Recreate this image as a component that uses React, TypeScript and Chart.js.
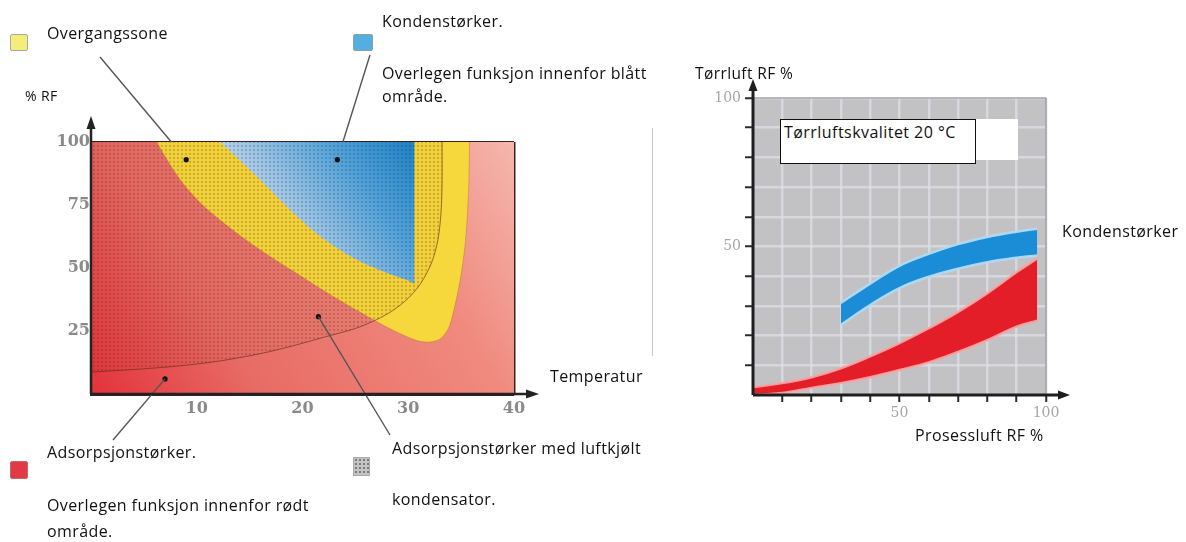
import React, { useEffect, useRef } from "react";
import { Chart, registerables } from "chart.js";
Chart.register(...registerables);

// ---------- Left chart (Temperatur / % RF) ----------
const leftXTicks = [10, 20, 30, 40];
const leftYTicks = [25, 50, 75, 100];
// Overgangssone (yellow) lower boundary
const yellowX = [6.2, 7.4, 8.8, 10.3, 12.2, 14.2, 16.6, 19.2, 22, 25, 28, 30, 31, 32, 33, 33.8, 34.3, 34.9, 35.4, 35.7, 35.8];
const yellowY = [100, 91.5, 83, 76, 69, 62.5, 55.5, 48.5, 41, 33.5, 26.5, 22.5, 21, 20.6, 21.8, 26, 33, 45, 60, 80, 100];
// Kondenstørker (blue) lower boundary
const blueX = [12.2, 14, 16, 18, 20, 22, 24, 26, 28, 30, 30.6, 30.6];
const blueY = [100, 93, 85, 76.5, 68.5, 61.5, 56, 51.5, 48, 45, 44, 100];
// Adsorpsjonstørker med luftkjølt kondensator (dotted) boundary
const patternX = [0, 4, 8, 12, 16, 19, 22, 25, 27, 28.5, 30, 31.2, 32.2, 32.8, 33.1, 33.2, 33.2];
const patternY = [8.7, 9.7, 11, 13, 16, 19, 22.5, 26, 29.5, 33, 38, 44, 52, 61, 72, 85, 100];
// marker dots
const dotX = [9, 23.3, 21.5, 7];
const dotY = [93, 93, 30.7, 6];

// ---------- Right chart (Prosessluft RF % / Tørrluft RF %) ----------
const rightTickLabels = [50, 100];
const rBlueX = [30, 40, 50, 60, 70, 80, 90, 97];
const rBlueUpper = [31, 37.5, 43.5, 47.5, 50.8, 53.2, 55, 56];
const rBlueLower = [23.6, 30.3, 36, 39.8, 42.5, 44.7, 46.2, 47];
const rRedX = [0, 10, 20, 30, 40, 50, 60, 70, 80, 90, 97];
const rRedUpper = [2.7, 4, 6, 9, 13, 17.5, 22.5, 28, 34.3, 41.4, 46];
const rRedLower = [0, 0.7, 2.4, 4, 6, 8.4, 11, 14.5, 18.5, 23, 25];

const pts = (xs: number[], ys: number[]) => xs.map((x, i) => ({ x, y: ys[i] }));

const FONT = "'Open Sans', 'Noto Sans', sans-serif";

type TextItem = { t: string; x: number; cy: number; size?: number; ls?: number };
const texts: TextItem[] = [
  { t: "Overgangssone", x: 47, cy: 33 },
  { t: "% RF", x: 25, cy: 96, size: 14 },
  { t: "Kondenstørker.", x: 382, cy: 21 },
  { t: "Overlegen funksjon innenfor blått", x: 382, cy: 73 },
  { t: "område.", x: 382, cy: 96 },
  { t: "Temperatur", x: 550, cy: 376 },
  { t: "Adsorpsjonstørker.", x: 47, cy: 452 },
  { t: "Overlegen funksjon innenfor rødt", x: 47, cy: 505 },
  { t: "område.", x: 47, cy: 531 },
  { t: "Adsorpsjonstørker med luftkjølt", x: 392, cy: 448 },
  { t: "kondensator.", x: 392, cy: 499 },
  { t: "Tørrluft RF %", x: 695, cy: 73, size: 15.5 },
  { t: "Kondenstørker", x: 1062, cy: 231 },
  { t: "Prosessluft RF %", x: 915, cy: 435 },
];

// leader lines: start (page px) -> dot index
const leaders = [
  { sx: 100, sy: 57, dot: 0, stopAtTop: true },
  { sx: 370, sy: 55, dot: 1, stopAtTop: true },
  { sx: 113, sy: 440, dot: 3, stopAtTop: false },
  { sx: 390, sy: 435, dot: 2, stopAtTop: false },
];

function LeftChart() {
  const ref = useRef<HTMLCanvasElement>(null);
  useEffect(() => {
    const canvas = ref.current!;
    const c2d = canvas.getContext("2d")!;
    const pc = document.createElement("canvas");
    pc.width = 4;
    pc.height = 4;
    const g = pc.getContext("2d")!;
    g.fillStyle = "rgba(110,50,10,0.04)";
    g.fillRect(0, 0, 4, 4);
    g.fillStyle = "rgba(80,30,10,0.32)";
    g.beginPath();
    g.arc(2, 2, 0.9, 0, Math.PI * 2);
    g.fill();
    const pattern = c2d.createPattern(pc, "repeat")!;

    const decor = {
      id: "leftDecor",
      afterDraw(chart: any) {
        const { ctx, chartArea, scales } = chart;
        const { left, top, right, bottom } = chartArea;
        ctx.save();
        ctx.strokeStyle = "#555";
        ctx.lineWidth = 1.4;
        leaders.forEach((l) => {
          const ex = scales.x.getPixelForValue(dotX[l.dot]);
          const ey = scales.y.getPixelForValue(dotY[l.dot]);
          let tx = ex,
            ty = ey;
          if (l.stopAtTop) {
            const t = (top - l.sy) / (ey - l.sy);
            tx = l.sx + (ex - l.sx) * t;
            ty = top;
          }
          ctx.beginPath();
          ctx.moveTo(l.sx, l.sy);
          ctx.lineTo(tx, ty);
          ctx.stroke();
        });
        ctx.strokeStyle = "#222";
        ctx.fillStyle = "#222";
        ctx.lineWidth = 2.5;
        ctx.beginPath();
        ctx.moveTo(left, bottom);
        ctx.lineTo(left, top - 16);
        ctx.moveTo(left, bottom);
        ctx.lineTo(right + 16, bottom);
        ctx.stroke();
        ctx.beginPath();
        ctx.moveTo(left, top - 26);
        ctx.lineTo(left - 4.5, top - 13);
        ctx.lineTo(left + 4.5, top - 13);
        ctx.closePath();
        ctx.fill();
        ctx.beginPath();
        ctx.moveTo(right + 25, bottom);
        ctx.lineTo(right + 12, bottom - 4.5);
        ctx.lineTo(right + 12, bottom + 4.5);
        ctx.closePath();
        ctx.fill();
        ctx.restore();
      },
    };

    const redGrad = (c: any) => {
      const ch = c.chart;
      const ca = ch.chartArea;
      if (!ca) return "#e8605a";
      const gr = ch.ctx.createLinearGradient(ca.left, ca.bottom, ca.right, ca.top);
      gr.addColorStop(0, "#e3323a");
      gr.addColorStop(0.3, "#e86c66");
      gr.addColorStop(0.72, "#f08a7f");
      gr.addColorStop(1, "#f5b7ad");
      return gr;
    };
    const blueGrad = (c: any) => {
      const ch = c.chart;
      const { chartArea, scales } = ch;
      if (!chartArea) return "#5aaee4";
      const gr = ch.ctx.createLinearGradient(
        scales.x.getPixelForValue(31),
        scales.y.getPixelForValue(100),
        scales.x.getPixelForValue(19),
        scales.y.getPixelForValue(62)
      );
      gr.addColorStop(0, "#1585d0");
      gr.addColorStop(0.45, "#4ea8e6");
      gr.addColorStop(1, "#b6d8f6");
      return gr;
    };

    const chart = new Chart(canvas, {
      type: "line",
      data: {
        datasets: [
          {
            data: pts(dotX, dotY),
            showLine: false,
            pointRadius: 2.6,
            pointBackgroundColor: "#111",
            pointBorderWidth: 0,
            fill: false,
          },
          {
            data: pts(patternX, patternY),
            fill: "end",
            backgroundColor: pattern,
            borderColor: "rgba(90,40,30,0.6)",
            borderWidth: 1,
            pointRadius: 0,
            tension: 0.3,
          },
          {
            data: pts(blueX, blueY),
            fill: "end",
            backgroundColor: blueGrad,
            borderColor: "transparent",
            pointRadius: 0,
            tension: 0.3,
          },
          {
            data: pts(yellowX, yellowY),
            fill: "end",
            backgroundColor: "#f6d83c",
            borderColor: "rgba(190,110,50,0.45)",
            borderWidth: 1,
            pointRadius: 0,
            tension: 0.3,
          },
          {
            data: [
              { x: 0, y: 0 },
              { x: 40, y: 0 },
            ],
            fill: "end",
            backgroundColor: redGrad,
            borderColor: "transparent",
            pointRadius: 0,
          },
        ],
      },
      options: {
        animation: false,
        responsive: false,
        events: [],
        layout: { padding: { left: 0, top: 142, right: 146, bottom: 0 } },
        plugins: {
          legend: { display: false },
          tooltip: { enabled: false },
          filler: { drawTime: "beforeDatasetsDraw" },
        },
        scales: {
          x: {
            type: "linear",
            min: 0,
            max: 40,
            z: 1,
            afterFit: (s: any) => {
              s.height = 148;
            },
            afterBuildTicks: (s: any) => {
              s.ticks = leftXTicks.map((v) => ({ value: v }));
            },
            border: { display: true, color: "#3a2222", width: 3 },
            grid: {
              drawTicks: false,
              color: (c: any) => (c.tick && c.tick.value === 40 ? "#3a2222" : "rgba(70,30,30,0.55)"),
              lineWidth: (c: any) => (c.tick && c.tick.value === 40 ? 2.5 : 1.2),
            },
            ticks: {
              padding: 5,
              color: "#8a8a8a",
              maxRotation: 0,
              font: { family: "'DejaVu Serif', serif", weight: "bold", size: 16 },
            },
          },
          y: {
            type: "linear",
            min: 0,
            max: 100,
            z: 1,
            afterFit: (s: any) => {
              s.width = 91;
            },
            afterBuildTicks: (s: any) => {
              s.ticks = leftYTicks.map((v) => ({ value: v }));
            },
            border: { display: true, color: "#3a2222", width: 3 },
            grid: {
              drawTicks: false,
              color: (c: any) => (c.tick && c.tick.value === 100 ? "#3a2222" : "rgba(70,30,30,0.55)"),
              lineWidth: (c: any) => (c.tick && c.tick.value === 100 ? 2.5 : 1.2),
            },
            ticks: {
              padding: 1,
              color: "#8a8a8a",
              font: { family: "'DejaVu Serif', serif", weight: "bold", size: 16 },
            },
          },
        },
      },
      plugins: [decor],
    } as any);
    return () => chart.destroy();
  }, []);
  return (
    <canvas
      ref={ref}
      width={660}
      height={542}
      style={{ position: "absolute", left: 0, top: 0, width: 660, height: 542 }}
    />
  );
}

function RightChart() {
  const ref = useRef<HTMLCanvasElement>(null);
  useEffect(() => {
    const canvas = ref.current!;
    const decor = {
      id: "rightDecor",
      beforeDraw(chart: any) {
        const { ctx, chartArea } = chart;
        const { left, top, right, bottom } = chartArea;
        ctx.save();
        ctx.fillStyle = "#c2c2c5";
        ctx.fillRect(left, top, right - left, bottom - top);
        ctx.restore();
      },
      afterDraw(chart: any) {
        const { ctx, chartArea } = chart;
        const { left, top, right, bottom } = chartArea;
        ctx.save();
        ctx.strokeStyle = "#8c8c8e";
        ctx.lineWidth = 1.2;
        ctx.beginPath();
        ctx.moveTo(left, top);
        ctx.lineTo(right, top);
        ctx.lineTo(right, bottom);
        ctx.stroke();
        ctx.strokeStyle = "#1e1e1e";
        ctx.fillStyle = "#1e1e1e";
        ctx.lineWidth = 3;
        ctx.beginPath();
        ctx.moveTo(left, bottom);
        ctx.lineTo(left, top - 10);
        ctx.moveTo(left, bottom);
        ctx.lineTo(right + 14, bottom);
        ctx.stroke();
        ctx.beginPath();
        ctx.moveTo(left, top - 19);
        ctx.lineTo(left - 4.5, top - 7);
        ctx.lineTo(left + 4.5, top - 7);
        ctx.closePath();
        ctx.fill();
        ctx.beginPath();
        ctx.moveTo(right + 24, bottom);
        ctx.lineTo(right + 12, bottom - 4.5);
        ctx.lineTo(right + 12, bottom + 4.5);
        ctx.closePath();
        ctx.fill();
        ctx.restore();
      },
    };
    const gridColor = (c: any) => (c.tick && c.tick.value === 0 ? "transparent" : "rgba(224,224,232,0.7)");
    const tickColor = (c: any) => (c.tick && c.tick.value === 0 ? "transparent" : "#2a2a2a");
    const tickCb = (v: any) => (rightTickLabels.includes(Number(v)) ? String(v) : "");
    const tickFont = { family: "'DejaVu Serif', serif", size: 14 };
    const chart = new Chart(canvas, {
      type: "line",
      data: {
        datasets: [
          {
            data: pts(rBlueX, rBlueUpper),
            fill: "+1",
            backgroundColor: "#1a8dd6",
            borderColor: "rgba(178,218,242,0.95)",
            borderWidth: 2.5,
            pointRadius: 0,
            tension: 0.4,
          },
          {
            data: pts(rBlueX, rBlueLower),
            fill: false,
            borderColor: "rgba(178,218,242,0.95)",
            borderWidth: 2.5,
            pointRadius: 0,
            tension: 0.4,
          },
          {
            data: pts(rRedX, rRedUpper),
            fill: "+1",
            backgroundColor: "#e31e28",
            borderColor: "rgba(246,165,165,0.9)",
            borderWidth: 2.5,
            pointRadius: 0,
            tension: 0.4,
          },
          {
            data: pts(rRedX, rRedLower),
            fill: false,
            borderColor: "rgba(246,165,165,0.9)",
            borderWidth: 2.5,
            pointRadius: 0,
            tension: 0.4,
          },
        ],
      },
      options: {
        animation: false,
        responsive: false,
        events: [],
        layout: { padding: { left: 0, top: 98, right: 140, bottom: 0 } },
        plugins: {
          legend: { display: false },
          tooltip: { enabled: false },
          filler: { drawTime: "beforeDatasetsDraw" },
        },
        scales: {
          x: {
            type: "linear",
            min: 0,
            max: 100,
            afterFit: (s: any) => {
              s.height = 147;
            },
            border: { display: false },
            grid: {
              color: gridColor,
              lineWidth: 2.5,
              tickColor: tickColor,
              tickLength: 7,
              tickWidth: 2,
            },
            ticks: {
              stepSize: 10,
              padding: 3,
              color: "#a6a6a6",
              callback: tickCb,
              autoSkip: false,
              maxRotation: 0,
              minRotation: 0,
              font: tickFont,
            },
          },
          y: {
            type: "linear",
            min: 0,
            max: 100,
            afterFit: (s: any) => {
              s.width = 93;
            },
            border: { display: false },
            grid: {
              color: gridColor,
              lineWidth: 2.5,
              tickColor: tickColor,
              tickLength: 8,
              tickWidth: 2,
            },
            ticks: {
              stepSize: 10,
              padding: 4,
              color: "#a6a6a6",
              callback: tickCb,
              autoSkip: false,
              font: tickFont,
            },
          },
        },
      },
      plugins: [decor],
    } as any);
    return () => chart.destroy();
  }, []);
  return (
    <canvas
      ref={ref}
      width={526}
      height={542}
      style={{ position: "absolute", left: 660, top: 0, width: 526, height: 542 }}
    />
  );
}

export default function App() {
  const abs = (o: React.CSSProperties): React.CSSProperties => ({ position: "absolute", ...o });
  return (
    <div
      style={{
        position: "fixed",
        left: 0,
        top: 0,
        width: 1186,
        height: 542,
        background: "#fff",
        overflow: "hidden",
        fontFamily: FONT,
        color: "#111",
      }}
    >
      <LeftChart />
      <RightChart />
      <div style={abs({ left: 652, top: 128, width: 1, height: 228, background: "#c8c8c8" })} />
      <div style={abs({ left: 10, top: 34, width: 16, height: 15, background: "#f3ee78", border: "1px solid #a8a8a8", borderRadius: 2 })} />
      <div style={abs({ left: 353, top: 34, width: 18, height: 15, background: "#55ade0", border: "1px solid #8aa0a8", borderRadius: 2 })} />
      <div style={abs({ left: 10, top: 461, width: 16, height: 16, background: "#e23a44", border: "1px solid #c86a6a", borderRadius: 2 })} />
      <div
        style={abs({
          left: 353,
          top: 457,
          width: 15,
          height: 17,
          backgroundColor: "#c4c4c4",
          backgroundImage: "radial-gradient(circle, #7a7a7a 0.9px, transparent 1.3px)",
          backgroundSize: "4px 4px",
          border: "1px solid #aaa",
        })}
      />
      <div style={abs({ left: 780, top: 119, width: 238, height: 41, background: "#fff" })} />
      <div
        style={abs({
          left: 780,
          top: 119,
          width: 194,
          height: 43,
          background: "#fff",
          border: "1.5px solid #111",
        })}
      />
      <div style={abs({ left: 784, top: 122, fontSize: 16, letterSpacing: 0.45, lineHeight: "20px", whiteSpace: "nowrap" })}>
        Tørrluftskvalitet 20 °C
      </div>
      {texts.map((it, i) => (
        <div
          key={i}
          style={abs({
            left: it.x,
            top: it.cy - 11,
            fontSize: it.size || 16,
            letterSpacing: it.ls ?? 0.4,
            lineHeight: "22px",
            whiteSpace: "nowrap",
          })}
        >
          {it.t}
        </div>
      ))}
    </div>
  );
}
